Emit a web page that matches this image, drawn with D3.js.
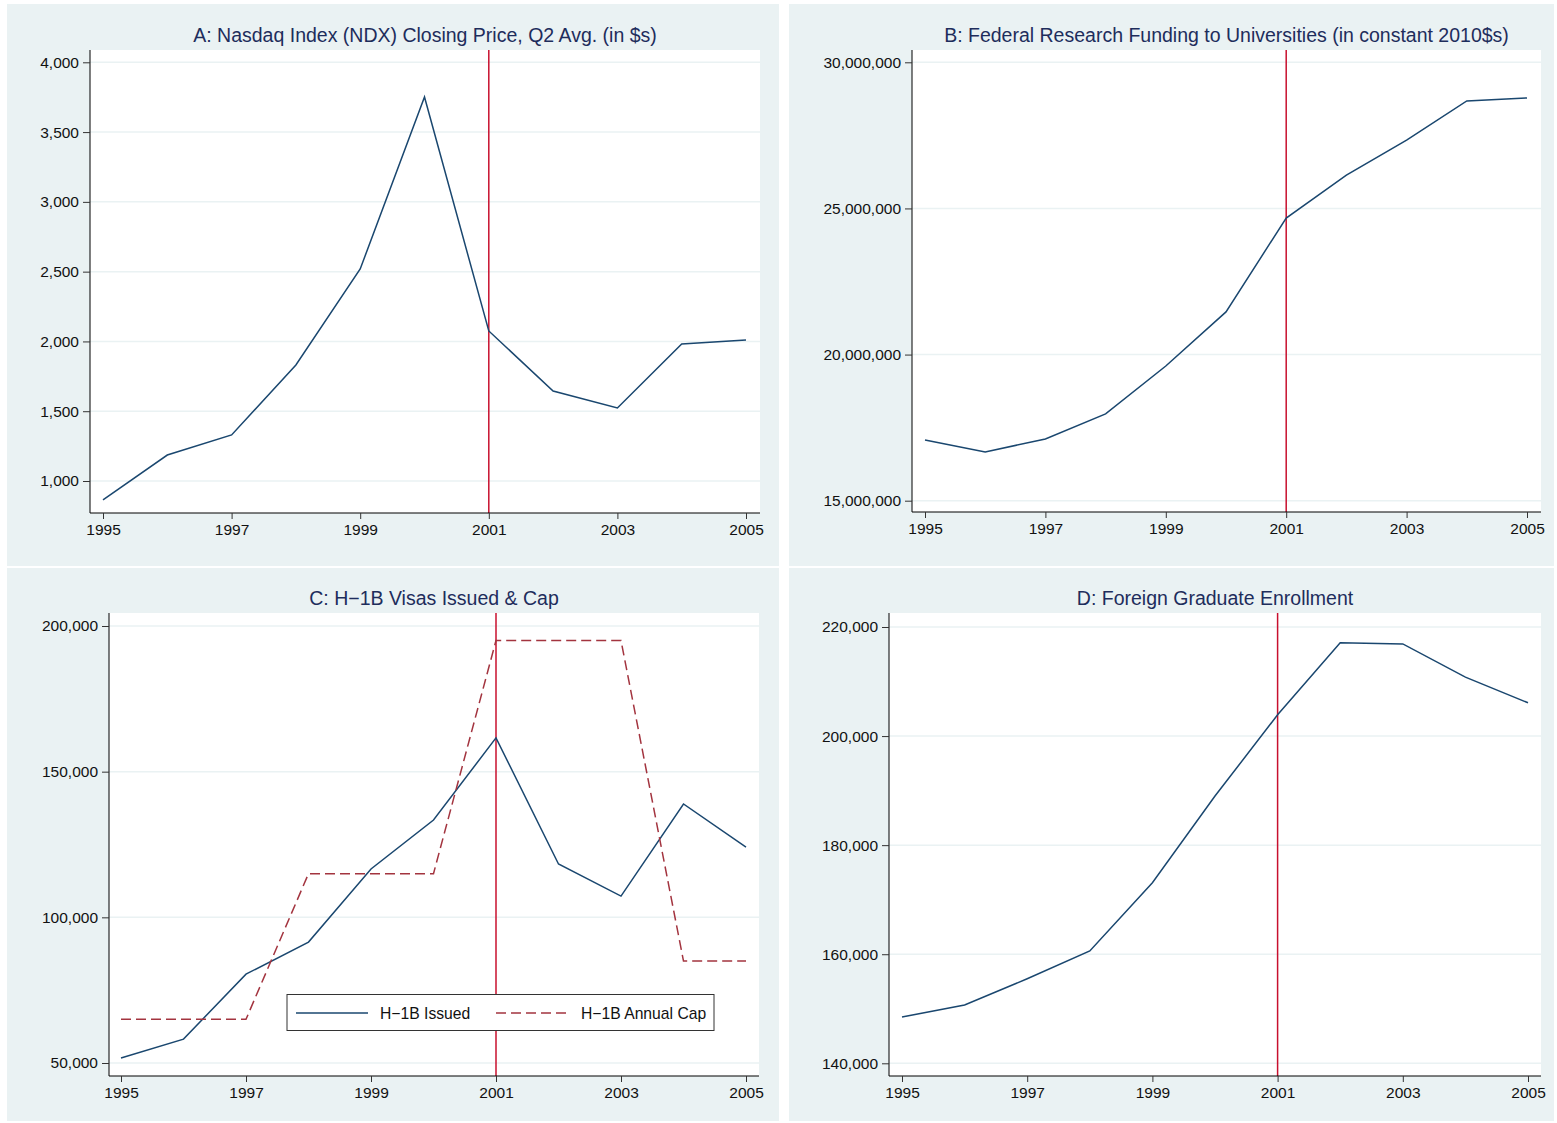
<!DOCTYPE html>
<html>
<head>
<meta charset="utf-8">
<script src="https://cdn.jsdelivr.net/npm/d3@7"></script>
<style>
  html, body { margin: 0; padding: 0; background: #ffffff; }
  svg { display: block; font-family: "Liberation Sans", Arial, Helvetica, sans-serif; }
</style>
</head>
<body>
<svg id="chart" width="1557" height="1123"></svg>
<script>
// ---- data ----
const years = [1995, 1996, 1997, 1998, 1999, 2000, 2001, 2002, 2003, 2004, 2005];
const xTicks = [1995, 1997, 1999, 2001, 2003, 2005];
const breakYear = 2001;

const nasdaqClose = [864, 1186, 1330, 1831, 2519, 3751, 2075, 1645, 1523, 1982, 2011];
const nasdaqTicks = [1000, 1500, 2000, 2500, 3000, 3500, 4000];

const fedFunding = [17080000, 16670000, 17110000, 17970000, 19610000, 21460000, 24670000, 26140000, 27340000, 28680000, 28780000];
const fedTicks = [15000000, 20000000, 25000000, 30000000];

const h1bIssued = [51700, 58200, 80500, 91500, 116600, 133400, 161600, 118300, 107300, 138900, 124100];
const h1bCap = [65000, 65000, 65000, 115000, 115000, 115000, 195000, 195000, 195000, 85000, 85000];
const h1bTicks = [50000, 100000, 150000, 200000];

const foreignGrad = [148500, 150700, 155500, 160600, 173100, 189000, 203900, 217100, 216900, 210800, 206100];
const gradTicks = [140000, 160000, 180000, 200000, 220000];

const titles = [
  "A: Nasdaq Index (NDX) Closing Price, Q2 Avg. (in $s)",
  "B: Federal Research Funding to Universities (in constant 2010$s)",
  "C: H\u22121B Visas Issued & Cap",
  "D: Foreign Graduate Enrollment"
];
const legendLabels = ["H\u22121B Issued", "H\u22121B Annual Cap"];

// ---- styling ----
const NAVY = "#1a476f";
const MAROON = "#a3343f";
const RED = "#c8102e";
const BG = "#eaf2f3";
const GRID = "#eaf2f3";
const TITLE_COLOR = "#1e2d5c";
const TICK_FONT = 15.5;

const fmt = d3.format(",");
const svg = d3.select("#chart");

// panel layout: background box, plot region, and pixel range of the tick extremes
const panels = [
  { bg: [7, 4, 772, 562],   plot: { l: 90,  t: 50,  r: 760,  b: 513 },  xr: [103, 746],  yr: [481, 62.3],
    ticks: nasdaqTicks, series: [{ v: nasdaqClose, c: NAVY }], title: titles[0] },
  { bg: [789, 4, 765, 562], plot: { l: 912, t: 50,  r: 1541, b: 512 },  xr: [925, 1527], yr: [500.7, 62.3],
    ticks: fedTicks, series: [{ v: fedFunding, c: NAVY }], title: titles[1] },
  { bg: [7, 568, 772, 553], plot: { l: 109, t: 613, r: 759,  b: 1076 }, xr: [121, 746],  yr: [1063, 626],
    ticks: h1bTicks, series: [{ v: h1bIssued, c: NAVY }, { v: h1bCap, c: MAROON, dash: "10,5" }], title: titles[2], legend: true },
  { bg: [789, 568, 765, 553], plot: { l: 889, t: 613, r: 1541, b: 1076 }, xr: [902, 1528], yr: [1063.3, 627],
    ticks: gradTicks, series: [{ v: foreignGrad, c: NAVY }], title: titles[3] }
];

panels.forEach(p => {
  const g = svg.append("g");
  const [bx, by, bw, bh] = p.bg;
  g.append("rect").attr("x", bx).attr("y", by).attr("width", bw).attr("height", bh).attr("fill", BG);

  const P = p.plot;
  g.append("rect").attr("x", P.l).attr("y", P.t).attr("width", P.r - P.l).attr("height", P.b - P.t).attr("fill", "#fff");

  const x = d3.scaleLinear().domain([years[0], years[years.length - 1]]).range(p.xr);
  const y = d3.scaleLinear().domain([p.ticks[0], p.ticks[p.ticks.length - 1]]).range(p.yr);

  // horizontal grid
  g.append("g").selectAll("line").data(p.ticks).join("line")
    .attr("x1", P.l).attr("x2", P.r)
    .attr("y1", d => y(d)).attr("y2", d => y(d))
    .attr("stroke", GRID).attr("stroke-width", 1.5);

  // vertical reference line
  g.append("line")
    .attr("x1", x(breakYear)).attr("x2", x(breakYear))
    .attr("y1", P.t).attr("y2", P.b)
    .attr("stroke", RED).attr("stroke-width", 1.5);

  // series
  p.series.forEach(s => {
    g.append("path")
      .datum(years.map((yr, i) => [yr, s.v[i]]))
      .attr("fill", "none").attr("stroke", s.c).attr("stroke-width", 1.5)
      .attr("stroke-dasharray", s.dash || null)
      .attr("d", d3.line().x(d => x(d[0])).y(d => y(d[1])));
  });

  // y axis
  const yAxis = g.append("g").attr("transform", `translate(${P.l},0)`)
    .call(d3.axisLeft(y).tickValues(p.ticks).tickFormat(fmt).tickSizeInner(7).tickSizeOuter(0).tickPadding(4));
  yAxis.select(".domain").attr("d", `M0,${P.t}V${P.b}`).attr("stroke", "#000");
  yAxis.selectAll(".tick line").attr("stroke", "#333");
  yAxis.selectAll("text").attr("font-size", TICK_FONT).attr("fill", "#111").attr("font-family", "Liberation Sans, Arial, sans-serif");

  // x axis
  const xAxis = g.append("g").attr("transform", `translate(0,${P.b})`)
    .call(d3.axisBottom(x).tickValues(xTicks).tickFormat(d3.format("d")).tickSizeInner(6).tickSizeOuter(0).tickPadding(5));
  xAxis.select(".domain").attr("d", `M${P.l},0H${P.r}`).attr("stroke", "#000");
  xAxis.selectAll(".tick line").attr("stroke", "#333");
  xAxis.selectAll("text").attr("font-size", TICK_FONT).attr("fill", "#111").attr("font-family", "Liberation Sans, Arial, sans-serif");

  // title
  g.append("text")
    .attr("x", (P.l + P.r) / 2).attr("y", P.t - 8)
    .attr("text-anchor", "middle").attr("font-size", 19.5).attr("fill", TITLE_COLOR)
    .text(p.title);

  if (p.legend) {
    const lg = g.append("g");
    lg.append("rect").attr("x", 287).attr("y", 994.5).attr("width", 427).attr("height", 36)
      .attr("fill", "#fff").attr("stroke", "#333").attr("stroke-width", 1);
    const items = [
      { x0: 296, x1: 368, tx: 380, c: NAVY, dash: null, label: legendLabels[0] },
      { x0: 496, x1: 568, tx: 581, c: MAROON, dash: "10,5", label: legendLabels[1] }
    ];
    items.forEach(it => {
      lg.append("line").attr("x1", it.x0).attr("x2", it.x1).attr("y1", 1013).attr("y2", 1013)
        .attr("stroke", it.c).attr("stroke-width", 1.5).attr("stroke-dasharray", it.dash);
      lg.append("text").attr("x", it.tx).attr("y", 1018.5).attr("font-size", 15.7).attr("fill", "#111").text(it.label);
    });
  }
});
</script>
</body>
</html>
